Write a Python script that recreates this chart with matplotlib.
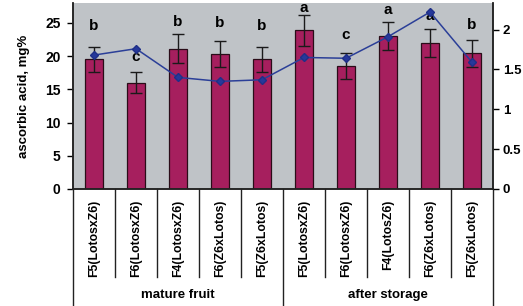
import matplotlib
matplotlib.use("Agg")
import matplotlib.pyplot as plt
import matplotlib.transforms as mtransforms
import numpy as np

plt.rcParams['font.family'] = ['Liberation Sans', 'DejaVu Sans']
plt.rcParams['font.weight'] = 'bold'

categories = ['F5(LotosxZ6)', 'F6(LotosxZ6)', 'F4(LotosxZ6)', 'F6(Z6xLotos)', 'F5(Z6xLotos)',
              'F5(LotosxZ6)', 'F6(LotosxZ6)', 'F4(LotosZ6)', 'F6(Z6xLotos)', 'F5(Z6xLotos)']
groups = ['mature fruit', 'after storage']
ascorbic = [19.5, 16.0, 21.1, 20.3, 19.5, 23.9, 18.5, 23.0, 22.0, 20.4]
ascorbic_err = [1.9, 1.6, 2.2, 2.0, 1.9, 2.3, 1.9, 2.1, 2.1, 2.0]
right_series = [1.68, 1.76, 1.40, 1.35, 1.37, 1.65, 1.64, 1.91, 2.22, 1.59]
letters = ['b', 'c', 'b', 'b', 'b', 'a', 'c', 'a', 'a', 'b']
letter_y = [24.5, 19.9, 25.1, 25.0, 24.6, 27.3, 23.2, 27.0, 26.0, 24.7]

fig = plt.figure(figsize=(5.23, 3.06), dpi=100)
ax = fig.add_axes([0.1396, 0.3824, 0.8030, 0.6078])
ax.set_facecolor('#bfc3c7')
x = np.arange(len(categories))

ax.bar(x, ascorbic, width=0.43, color='#a61f5e', edgecolor='#2a0c18', linewidth=0.9,
       yerr=ascorbic_err, capsize=4, error_kw=dict(ecolor='#1a1a1a', elinewidth=1.0, capthick=1.0),
       zorder=2)
ax.set_xlim(-0.5, len(categories) - 0.5)
ax.set_ylim(0, 28)
ax.set_yticks([0, 5, 10, 15, 20, 25])
ax.set_ylabel('ascorbic acid, mg%', fontsize=9.5, fontweight='bold', labelpad=11)
ax.set_xticks(x)
ax.set_xticklabels(categories, rotation=90, fontsize=8.8, fontweight='bold', va='top')
ax.tick_params(axis='x', length=0, pad=8)
ax.tick_params(axis='y', labelsize=10, length=4, width=1, direction='out', pad=5)

for xi, lt, ly in zip(x, letters, letter_y):
    ax.text(xi, ly, lt, ha='center', va='center', fontsize=11, fontweight='bold', clip_on=False)

ax2 = ax.twinx()
ax2.plot(x, right_series, color='#2b3f98', linewidth=1.1, marker='D', markersize=4.5,
         markerfacecolor='#26389a', markeredgecolor='#1f2f88', zorder=3)
ax2.set_ylim(0, 28 / 12)
ax2.set_yticks([0, 0.5, 1, 1.5, 2])
ax2.set_yticklabels(['0', '0.5', '1', '1.5', '2'])
ax2.tick_params(axis='y', labelsize=9.5, length=4, width=1, direction='out', pad=3)

for a in (ax, ax2):
    a.spines['top'].set_visible(False)
    for s in ('left', 'right', 'bottom'):
        a.spines[s].set_linewidth(1.1)
        a.spines[s].set_color('#222222')

trans = mtransforms.blended_transform_factory(ax.transData, ax.transAxes)
for k in range(len(categories) + 1):
    xs = k - 0.5
    bottom = -0.63 if k in (0, 5, 10) else -0.475
    ax.plot([xs, xs], [0, bottom], color='#222222', linewidth=1.0, transform=trans, clip_on=False)
for gi, g in enumerate(groups):
    ax.text(gi * 5 + 2, -0.57, g, ha='center', va='center', fontsize=9.5, fontweight='bold',
            transform=trans)

fig.savefig('out.png', dpi=100)
